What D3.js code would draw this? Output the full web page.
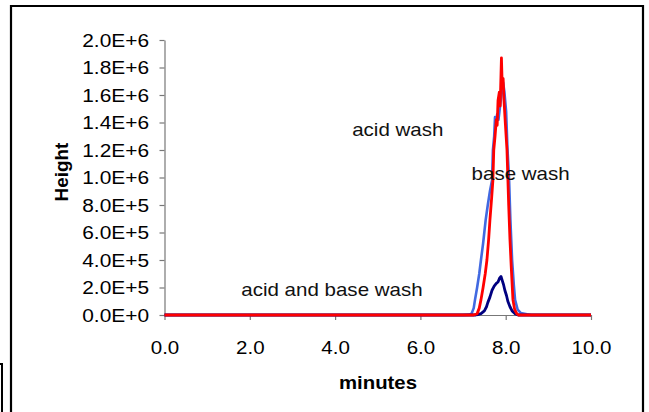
<!DOCTYPE html>
<html><head><meta charset="utf-8">
<script src="https://cdn.jsdelivr.net/npm/d3@7"></script>
<style>body{margin:0;background:#fff}svg{display:block}text{font-family:"Liberation Sans",Arial,sans-serif}</style>
</head><body><svg id="c" width="649" height="412"></svg>
<script>
// data (minutes, height in units of 1E+6)
const xTicks = [0, 2, 4, 6, 8, 10];
const yTicks = [0, 0.2, 0.4, 0.6, 0.8, 1.0, 1.2, 1.4, 1.6, 1.8, 2.0];
const xTickLabels = ["0.0", "2.0", "4.0", "6.0", "8.0", "10.0"];
const yTickLabels = ["0.0E+0","2.0E+5","4.0E+5","6.0E+5","8.0E+5","1.0E+6","1.2E+6","1.4E+6","1.6E+6","1.8E+6","2.0E+6"];
const acidT = [0,7.0,7.15,7.2,7.25,7.28,7.33,7.38,7.42,7.47,7.53,7.58,7.63,7.68,7.7,7.73,7.75,7.78,7.8,7.83,7.86,7.88,7.91,7.94,7.97,8.01,8.04,8.08,8.11,8.15,8.19,8.22,8.28,8.35,8.5,8.6,10];
const acidH = [0,0,0.003,0.01,0.05,0.11,0.2,0.3,0.4,0.52,0.69,0.8,0.9,0.98,1.2,1.3,1.44,1.40,1.46,1.42,1.5,1.55,1.62,1.69,1.62,1.48,1.22,0.98,0.69,0.4,0.22,0.11,0.04,0.015,0.005,0,0];
const bothT = [0,7.3,7.35,7.42,7.5,7.55,7.58,7.63,7.68,7.73,7.78,7.82,7.86,7.89,7.92,7.95,7.98,8.02,8.05,8.1,8.15,8.22,8.29,10];
const bothH = [0,0,0.003,0.01,0.03,0.06,0.09,0.13,0.18,0.21,0.23,0.24,0.27,0.28,0.25,0.22,0.18,0.14,0.1,0.06,0.03,0.01,0,0];
const baseT = [0,7.25,7.33,7.38,7.42,7.47,7.52,7.56,7.6,7.63,7.67,7.7,7.72,7.75,7.78,7.8,7.82,7.85,7.87,7.89,7.9,7.92,7.94,7.96,7.99,8.03,8.05,8.07,8.1,8.13,8.17,8.21,8.26,8.3,10];
const baseH = [0,0,0.01,0.05,0.11,0.2,0.3,0.4,0.55,0.69,0.85,0.98,1.2,1.3,1.42,1.38,1.56,1.62,1.52,1.75,1.87,1.65,1.72,1.56,1.4,1.2,1.0,0.8,0.55,0.35,0.11,0.04,0.01,0,0];
const series = [
  {name:"acid wash", t:acidT, h:acidH, color:"#4169E1", w:2.6},
  {name:"acid and base wash", t:bothT, h:bothH, color:"#000080", w:2.8},
  {name:"base wash", t:baseT, h:baseH, color:"#FF0000", w:2.8}
];
const notes = [
  {text:"acid wash", t:4.4, h:1.3},
  {text:"base wash", t:7.2, h:0.98},
  {text:"acid and base wash", t:1.8, h:0.14}
];

const svg = d3.select("#c");
const x = d3.scaleLinear().domain([0,10]).range([164.5,591]);
const y = d3.scaleLinear().domain([0,2]).range([315,40]);

// frame
svg.append("path").attr("d","M11,414 V6 H643 V414").attr("fill","none").attr("stroke","#000").attr("stroke-width",2.2);
svg.append("path").attr("d","M-2,364 H2 V414").attr("fill","none").attr("stroke","#000").attr("stroke-width",2);

function stretch(sel, sx){
  sel.each(function(){ const n=this.getComputedTextLength(); d3.select(this).attr("textLength", n*sx).attr("lengthAdjust","spacingAndGlyphs"); });
}

const axisColor = "#777";
const gx = svg.append("g").attr("transform","translate(0,315)")
  .call(d3.axisBottom(x).tickValues(xTicks).tickFormat((d,i)=>xTickLabels[i]).tickSize(5).tickPadding(0).tickSizeOuter(0));
const gy = svg.append("g").attr("transform","translate(164.5,0)")
  .call(d3.axisLeft(y).tickValues(yTicks).tickFormat((d,i)=>yTickLabels[i]).tickSize(5).tickSizeOuter(0));
[gx,gy].forEach(g=>{ g.select(".domain").attr("stroke",axisColor).attr("stroke-width",1.2); g.selectAll(".tick line").attr("stroke",axisColor).attr("stroke-width",1.2); g.selectAll("text").attr("fill","#000").attr("font-size",18).attr("font-family","Liberation Sans, Arial, sans-serif"); });
gx.selectAll(".tick text").attr("dy",null).attr("y",38.5);
gy.selectAll(".tick text").attr("x",-15.5).attr("dy","0.36em");
stretch(gx.selectAll(".tick text"),1.14);
stretch(gy.selectAll(".tick text"),1.16);

// lines
const line = d3.line().x(d=>x(d[0])).y(d=>y(d[1]));
series.forEach(s=>{
  svg.append("path").datum(s.t.map((t,i)=>[t,s.h[i]])).attr("d",line)
    .attr("fill","none").attr("stroke",s.color).attr("stroke-width",s.w).attr("stroke-linejoin","round");
});

// annotations
const nt = svg.selectAll(".note").data(notes).enter().append("text").attr("class","note")
  .attr("x",d=>x(d.t)).attr("y",d=>y(d.h)).attr("font-size",19).attr("fill","#111").text(d=>d.text);
stretch(nt,1.08);

// axis titles
const xt = svg.append("text").attr("x",378).attr("y",389).attr("text-anchor","middle").attr("font-size",18.5).attr("font-weight","bold").text("minutes");
stretch(xt,1.1);
const yt = svg.append("text").attr("transform","translate(68,172) rotate(-90)").attr("text-anchor","middle").attr("font-size",18).attr("font-weight","bold").text("Height");
stretch(yt,1.05);
</script></body></html>
